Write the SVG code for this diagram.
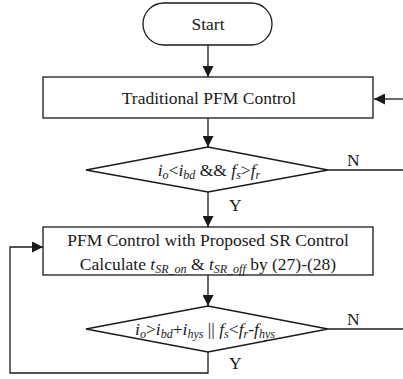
<svg xmlns="http://www.w3.org/2000/svg" width="403" height="379" viewBox="0 0 403 379">
<defs>
<marker id="ah" viewBox="0 0 10 10" refX="10" refY="5" markerWidth="11" markerHeight="11" markerUnits="userSpaceOnUse" orient="auto">
<path d="M0,0 L10,5 L0,10 Z" fill="#1a1a1a"/>
</marker>
<style>
.s{fill:#fff;stroke:#1a1a1a;stroke-width:1.3}
.c{fill:none;stroke:#1a1a1a;stroke-width:1.3}
.t{font-family:'Liberation Serif','Times New Roman',serif;font-size:17.5px;fill:#1a1a1a}
.m{text-anchor:middle}
.i{font-style:italic}
.sub{font-size:12px;font-style:italic}
</style>
</defs>
<rect width="403" height="379" fill="#fff"/>
<g id="connectors">
<line class="c" x1="208" y1="45" x2="208" y2="77" marker-end="url(#ah)"/>
<line class="c" x1="403" y1="99" x2="374" y2="99" marker-end="url(#ah)"/>
<line class="c" x1="208" y1="118" x2="208" y2="147" marker-end="url(#ah)"/>
<line class="c" x1="328" y1="170" x2="403" y2="170"/>
<line class="c" x1="208" y1="192" x2="208" y2="227" marker-end="url(#ah)"/>
<line class="c" x1="208" y1="275" x2="208" y2="306" marker-end="url(#ah)"/>
<line class="c" x1="328" y1="329" x2="403" y2="329"/>
<polyline class="c" points="208,352 208,373 10,373 10,247 43,247" marker-end="url(#ah)"/>
<text class="t" x="347" y="166">N</text>
<text class="t" x="347" y="325">N</text>
<text class="t" x="229" y="211">Y</text>
<text class="t" x="229" y="369">Y</text>
</g>
<g id="start">
<rect class="s" x="143" y="3" width="129" height="42" rx="21"/>
<text class="t m" x="208" y="30">Start</text>
</g>
<g id="traditional">
<rect class="s" x="43" y="77" width="330" height="41"/>
<text class="t m" x="209" y="104">Traditional PFM Control</text>
</g>
<g id="decision1">
<polygon class="s" points="86,170 208,147 328,170 208,192"/>
<text class="t m" x="209" y="176"><tspan class="i">i</tspan><tspan class="sub" dy="3">o</tspan><tspan dy="-3">&lt;</tspan><tspan class="i">i</tspan><tspan class="sub" dy="3">bd</tspan><tspan dy="-3"> &amp;&amp; </tspan><tspan class="i">f</tspan><tspan class="sub" dy="3">s</tspan><tspan dy="-3">&gt;</tspan><tspan class="i">f</tspan><tspan class="sub" dy="3">r</tspan></text>
</g>
<g id="sr-control">
<rect class="s" x="43" y="227" width="330" height="48"/>
<text class="t m" x="208" y="246">PFM Control with Proposed SR Control</text>
<text class="t m" x="208" y="270">Calculate <tspan class="i">t</tspan><tspan class="sub" dy="3">SR_on</tspan><tspan dy="-3"> &amp; </tspan><tspan class="i">t</tspan><tspan class="sub" dy="3">SR_off</tspan><tspan dy="-3"> by (27)-(28)</tspan></text>
</g>
<g id="decision2">
<polygon class="s" points="86,329 208,306 328,329 208,352"/>
<text class="t m" x="205" y="335"><tspan class="i">i</tspan><tspan class="sub" dy="3">o</tspan><tspan dy="-3">&gt;</tspan><tspan class="i">i</tspan><tspan class="sub" dy="3">bd</tspan><tspan dy="-3">+</tspan><tspan class="i">i</tspan><tspan class="sub" dy="3">hys</tspan><tspan dy="-3"> || </tspan><tspan class="i">f</tspan><tspan class="sub" dy="3">s</tspan><tspan dy="-3">&lt;</tspan><tspan class="i">f</tspan><tspan class="sub" dy="3">r</tspan><tspan dy="-3">-</tspan><tspan class="i">f</tspan><tspan class="sub" dy="3">hys</tspan></text>
</g>
</svg>
